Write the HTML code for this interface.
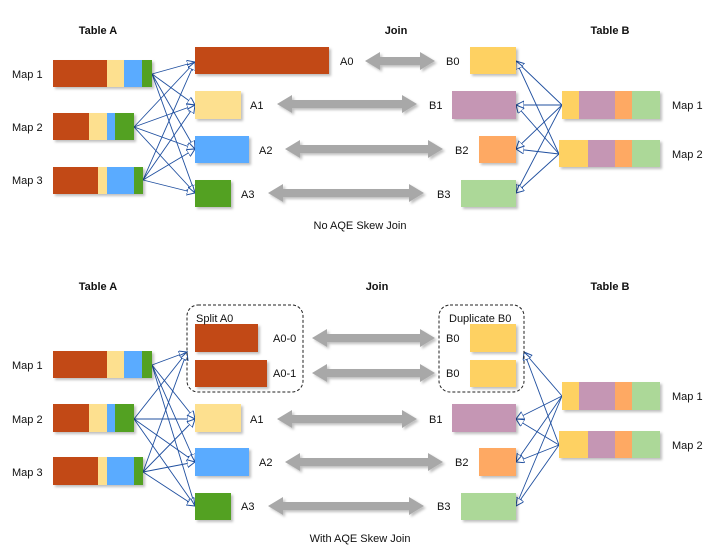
<!DOCTYPE html>
<html><head><meta charset="utf-8"><style>
html,body{margin:0;padding:0;background:#fff;}
svg{display:block;}
text{font-family:"Liberation Sans",sans-serif;font-size:11px;fill:#111;}
.b{font-weight:bold;}
</style></head><body>
<svg id="s" width="716" height="555" viewBox="0 0 716 555" xmlns="http://www.w3.org/2000/svg">
<defs>
<filter id="sh" x="-10%" y="-10%" width="130%" height="140%"><feDropShadow dx="2" dy="2" stdDeviation="1.2" flood-color="#000" flood-opacity="0.25"/></filter>
<marker id="ah" markerWidth="10" markerHeight="10" refX="8" refY="4" orient="auto" markerUnits="userSpaceOnUse"><path d="M0,0 L8,4 L0,8 Z" fill="#fff" stroke="#1f4f9f" stroke-width="1"/></marker>
</defs>
<g class="b">
<text x="98" y="34" text-anchor="middle" class="b">Table A</text>
<text x="396" y="34" text-anchor="middle" class="b">Join</text>
<text x="610" y="34" text-anchor="middle" class="b">Table B</text>
<text x="98" y="290" text-anchor="middle" class="b">Table A</text>
<text x="377" y="290" text-anchor="middle" class="b">Join</text>
<text x="610" y="290" text-anchor="middle" class="b">Table B</text>
</g>
<g id="lines" stroke="#1f4f9f" stroke-width="0.9" fill="none"></g>
<g id="boxes" filter="url(#sh)"></g>
<g id="garr" fill="#a8a8a8" filter="url(#sh)"></g>
<rect x="187" y="305" width="116" height="87" rx="11" fill="none" stroke="#222" stroke-dasharray="3,2"/>
<rect x="439" y="305" width="85" height="87" rx="11" fill="none" stroke="#222" stroke-dasharray="3,2"/>
<text x="196" y="322">Split A0</text>
<text x="449" y="322">Duplicate B0</text>
<text x="12" y="78">Map 1</text><text x="12" y="131">Map 2</text><text x="12" y="184">Map 3</text>
<text x="12" y="369">Map 1</text><text x="12" y="423">Map 2</text><text x="12" y="476">Map 3</text>
<text x="672" y="109">Map 1</text><text x="672" y="158">Map 2</text>
<text x="672" y="400">Map 1</text><text x="672" y="449">Map 2</text>
<text x="340" y="65">A0</text><text x="250" y="109">A1</text><text x="259" y="154">A2</text><text x="241" y="198">A3</text>
<text x="446" y="65">B0</text><text x="429" y="109">B1</text><text x="455" y="154">B2</text><text x="437" y="198">B3</text>
<text x="273" y="342">A0-0</text><text x="273" y="377">A0-1</text>
<text x="250" y="423">A1</text><text x="259" y="466">A2</text><text x="241" y="510">A3</text>
<text x="446" y="342">B0</text><text x="446" y="377">B0</text>
<text x="429" y="423">B1</text><text x="455" y="466">B2</text><text x="437" y="510">B3</text>
<text x="360" y="229" text-anchor="middle">No AQE Skew Join</text>
<text x="360" y="542" text-anchor="middle">With AQE Skew Join</text>
</svg>
<script>
var NS="http://www.w3.org/2000/svg";
function el(p,t,a){var e=document.createElementNS(NS,t);for(var k in a)e.setAttribute(k,a[k]);document.getElementById(p).appendChild(e);return e;}
var C={br:"#c24a12",be:"#fde08f",bl:"#5aabff",gr:"#53a122",ye:"#fed162",pu:"#c596b4",or:"#fea964",lg:"#acd898"};
function bar(y,h,segs){segs.forEach(function(s){el("boxes","rect",{x:s[0],y:y,width:s[1]-s[0],height:h,fill:C[s[2]]});});}
[0,291].forEach(function(o){
 bar(60+o,27,[[53,107,"br"],[107,124,"be"],[124,142,"bl"],[142,152,"gr"]]);
 var o2=o===0?0:291;
});
bar(113,27,[[53,89,"br"],[89,107,"be"],[107,115,"bl"],[115,134,"gr"]]);
bar(167,27,[[53,98,"br"],[98,107,"be"],[107,134,"bl"],[134,143,"gr"]]);
bar(404,28,[[53,89,"br"],[89,107,"be"],[107,115,"bl"],[115,134,"gr"]]);
bar(457,28,[[53,98,"br"],[98,107,"be"],[107,134,"bl"],[134,143,"gr"]]);
bar(91,28,[[562,579,"ye"],[579,615,"pu"],[615,632,"or"],[632,660,"lg"]]);
bar(140,27,[[559,588,"ye"],[588,615,"pu"],[615,632,"or"],[632,660,"lg"]]);
bar(382,28,[[562,579,"ye"],[579,615,"pu"],[615,632,"or"],[632,660,"lg"]]);
bar(431,27,[[559,588,"ye"],[588,615,"pu"],[615,632,"or"],[632,660,"lg"]]);
// single boxes
[[195,47,329,74,"br"],[195,91,241,119,"be"],[195,136,249,163,"bl"],[195,180,231,207,"gr"],
 [470,47,516,74,"ye"],[452,91,516,119,"pu"],[479,136,516,163,"or"],[461,180,516,207,"lg"],
 [195,324,258,352,"br"],[195,360,267,387,"br"],[195,404,241,432,"be"],[195,448,249,476,"bl"],[195,493,231,520,"gr"],
 [470,324,516,352,"ye"],[470,360,516,387,"ye"],[452,404,516,432,"pu"],[479,448,516,476,"or"],[461,493,516,520,"lg"]
].forEach(function(b){el("boxes","rect",{x:b[0],y:b[1],width:b[2]-b[0],height:b[3]-b[1],fill:C[b[4]]});});
// connectors
function conn(src,dst){src.forEach(function(s){dst.forEach(function(d){el("lines","line",{x1:s[0],y1:s[1],x2:d[0],y2:d[1],"marker-end":"url(#ah)"});});});}
conn([[152,74],[134,127],[143,180]],[[195,62],[195,105],[195,149],[195,193]]);
conn([[562,105],[559,154]],[[516,61],[516,105],[516,149],[516,193]]);
conn([[152,365],[134,419],[143,472]],[[187,352],[195,419],[195,462],[195,506]]);
conn([[562,396],[559,445]],[[524,352],[516,419],[516,462],[516,506]]);
// gray double arrows
function darr(x1,x2,y){var hl=15,hh=9,sh=4;
 el("garr","path",{d:"M"+x1+","+y+" L"+(x1+hl)+","+(y-hh)+" L"+(x1+hl)+","+(y-sh)+" L"+(x2-hl)+","+(y-sh)+" L"+(x2-hl)+","+(y-hh)+" L"+x2+","+y+" L"+(x2-hl)+","+(y+hh)+" L"+(x2-hl)+","+(y+sh)+" L"+(x1+hl)+","+(y+sh)+" L"+(x1+hl)+","+(y+hh)+" Z"});}
darr(365,435,61);darr(277,417,104);darr(285,443,149);darr(268,424,193);
darr(312,435,338);darr(312,435,373);darr(277,417,419);darr(285,443,462);darr(268,424,506);
</script>
</body></html>
